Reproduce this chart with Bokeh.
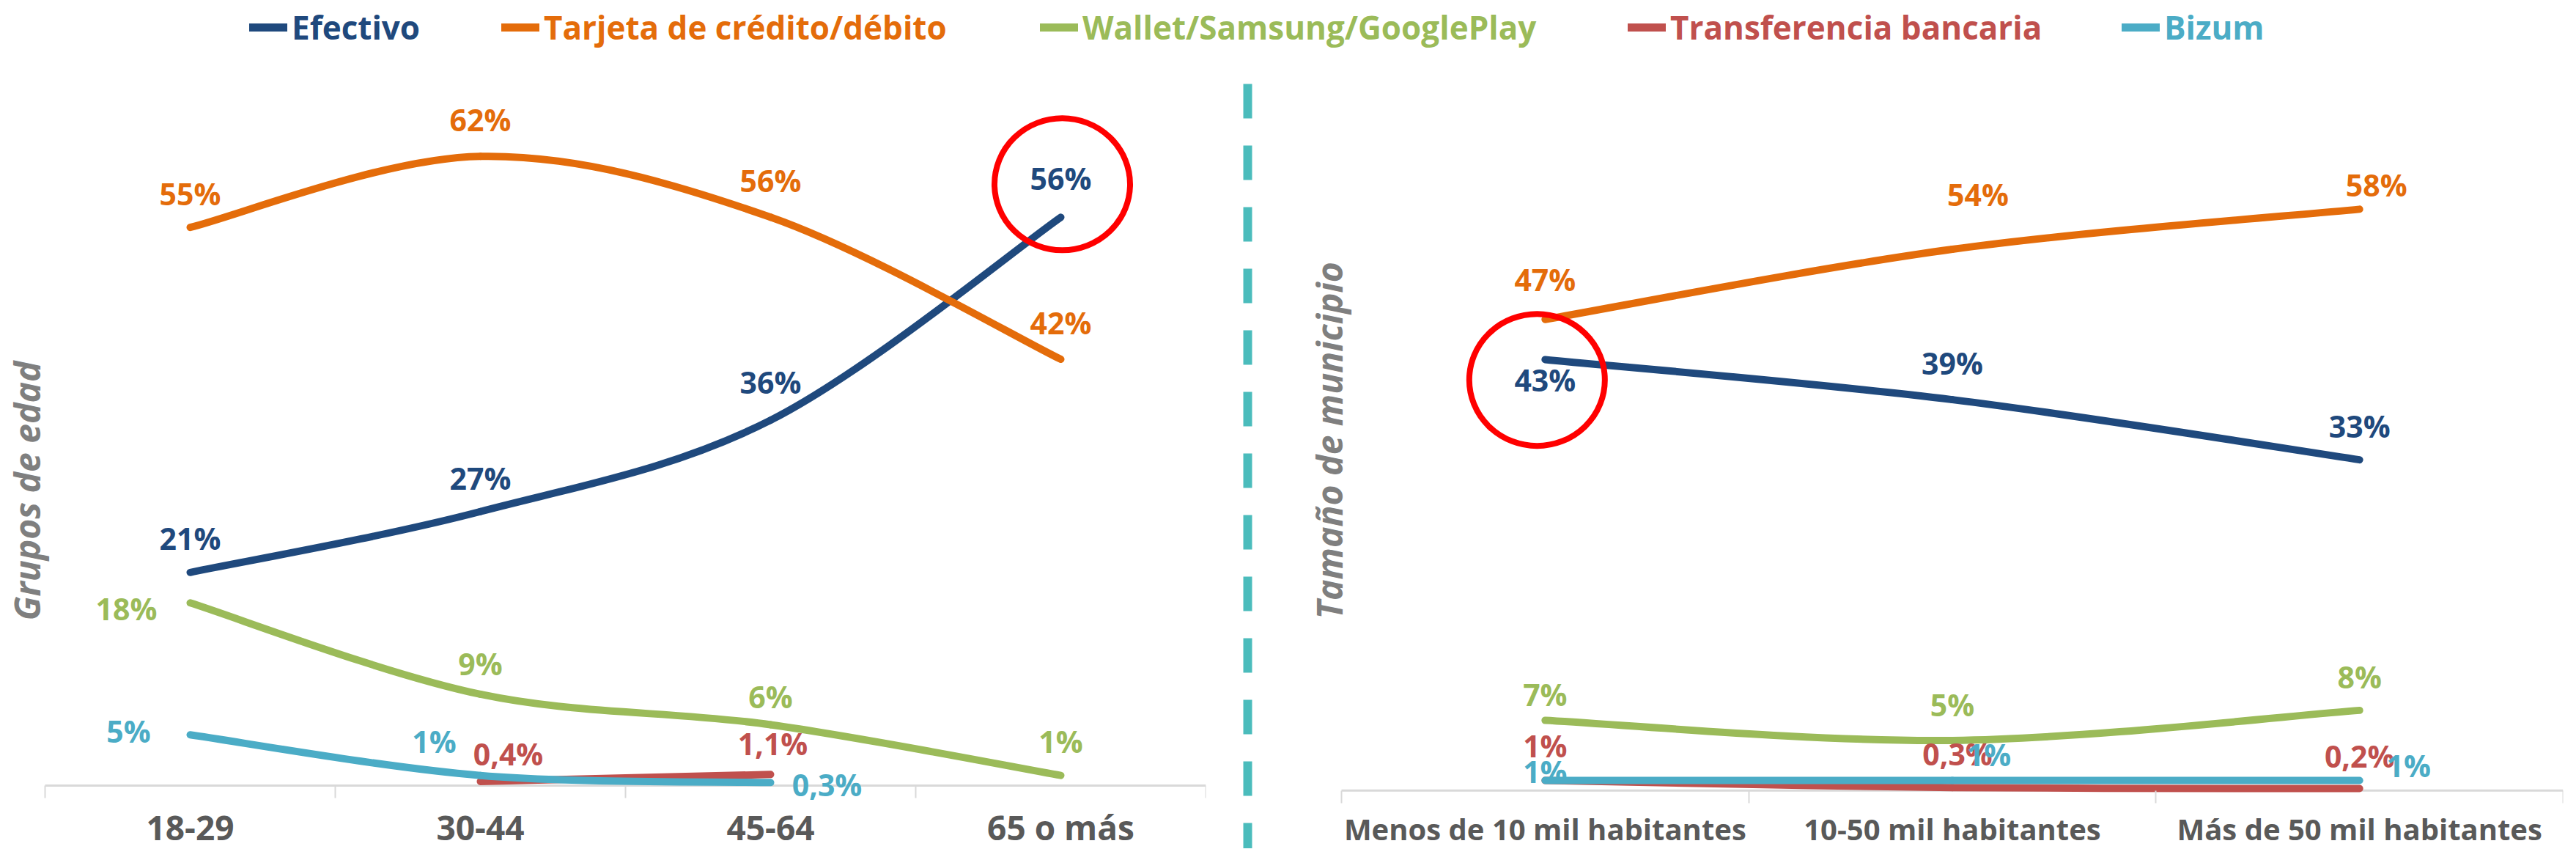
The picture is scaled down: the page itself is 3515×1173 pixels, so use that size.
import math
from bokeh.plotting import figure
from bokeh.models import (Range1d, LinearAxis, FixedTicker, Label, Legend,
                          LegendItem, ColumnDataSource)
from bokeh.layouts import column, row
from bokeh.embed import file_html
from bokeh.resources import INLINE
from bokeh.core.properties import value

# ---------------- data ----------------
SERIES = ["Efectivo", "Tarjeta de crédito/débito", "Wallet/Samsung/GooglePlay",
          "Transferencia bancaria", "Bizum"]
COLORS = ["#1F497D", "#E46C0A", "#9BBB59", "#C0504D", "#4BACC6"]

AGE_GROUPS = ["18-29", "30-44", "45-64", "65 o más"]
age_efectivo = [21, 27, 36, 56]
age_tarjeta = [55, 62, 56, 42]
age_wallet = [18, 9, 6, 1]
age_transfer = [None, 0.4, 1.1, None]
age_bizum = [5, 1, 0.3, None]

TOWN_SIZES = ["Menos de 10 mil habitantes", "10-50 mil habitantes", "Más de 50 mil habitantes"]
town_efectivo = [43, 39, 33]
town_tarjeta = [47, 54, 58]
town_wallet = [7, 5, 8]
town_transfer = [1, 0.3, 0.2]
town_bizum = [1, 1, 1]

AGE_DATA = [age_efectivo, age_tarjeta, age_wallet, age_transfer, age_bizum]
TOWN_DATA = [town_efectivo, town_tarjeta, town_wallet, town_transfer, town_bizum]

# ---------------- styles / placement ----------------
FONT = "Open Sans"
LABEL_PX = 41
LINE_W = 10
AXIS_GREY = "#D9D9D9"
# data label offsets in screen px (dx, dy); dy negative = up
AGE_LABEL_OFFSETS = [
    [(0, -47), (0, -46), (0, -52), (0, -53)],
    [(0, -46), (0, -50), (0, -50), (0, -50)],
    [(-87, 8), (0, -42), (0, -38), (0, -47)],
    [None, (38, -38), (3, -42), None],
    [(-84, -5), (-63, -47), (77, 3), None],
]
TOWN_LABEL_OFFSETS = [
    [(0, 28), (0, -50), (0, -46)],
    [(0, -55), (35, -75), (23, -33)],
    [(0, -36), (0, -49), (0, -46)],
    [(0, -48), (7, -46), (0, -45)],
    [(0, -13), (50, -36), (67, -21)],
]
# highlight ellipse: (series index, point index, dx px, dy px)
AGE_HIGHLIGHT = (0, 3, 2, -45)
TOWN_HIGHLIGHT = (0, 0, -11, 28)

T = 1.0 / 6.0
ROW_H = 1065


def fmt(v):
    if float(v).is_integer():
        return f"{int(v)}%"
    return f"{v:.1f}".replace(".", ",") + "%"


def bezier_source(xs, ys):
    d = dict(x0=[], y0=[], x1=[], y1=[], cx0=[], cy0=[], cx1=[], cy1=[])
    runs, cur = [], []
    for k, v in enumerate(ys):
        if v is None:
            if cur:
                runs.append(cur)
            cur = []
        else:
            cur.append(k)
    if cur:
        runs.append(cur)
    for run in runs:
        pts = [(xs[k], ys[k]) for k in run]
        m = len(pts)
        for j in range(m - 1):
            pa = pts[max(j - 1, 0)]
            pb = pts[j]
            pc = pts[j + 1]
            pd = pts[min(j + 2, m - 1)]
            d["x0"].append(pb[0]); d["y0"].append(pb[1])
            d["x1"].append(pc[0]); d["y1"].append(pc[1])
            d["cx0"].append(pb[0] + (pc[0] - pa[0]) * T)
            d["cy0"].append(pb[1] + (pc[1] - pa[1]) * T)
            d["cx1"].append(pc[0] - (pd[0] - pb[0]) * T)
            d["cy1"].append(pc[1] - (pd[1] - pb[1]) * T)
    return ColumnDataSource(d)


def bare_figure(width, height, xr, yr, **borders):
    p = figure(width=width, height=height, x_range=xr, y_range=yr,
               toolbar_location=None, output_backend="svg",
               x_axis_location=None, y_axis_location=None,
               outline_line_color=None, background_fill_color="white",
               border_fill_color="white", **borders)
    p.grid.visible = False
    return p


def make_panel(cats, data, offsets, highlight, width, lead_px, border_right, border_top,
               zero_px, ppy, cat_font_px, label_standoff, title, title_pos, divider=None):
    """lead_px: free space (px) left of the category axis inside the frame."""
    n = len(cats)
    fh = ROW_H - border_top
    cw = width - border_right - lead_px
    ppx = cw / n
    x_min = -lead_px / ppx
    y_max = zero_px / ppy
    y_min = -(fh - zero_px) / ppy
    p = bare_figure(width, ROW_H, Range1d(x_min, n), Range1d(y_min, y_max),
                    min_border_left=0, min_border_right=border_right,
                    min_border_top=border_top, min_border_bottom=0)

    xs = [i + 0.5 for i in range(n)]
    # category axis baseline
    p.segment(x0=[0], y0=[0], x1=[n], y1=[0], line_color=AXIS_GREY, line_width=3)
    ticker = FixedTicker(ticks=xs, minor_ticks=list(range(n + 1)))
    ax = LinearAxis(ticker=ticker, fixed_location=0,
                    major_label_overrides={x: c for x, c in zip(xs, cats)},
                    axis_line_color=None,
                    major_tick_in=0, major_tick_out=0,
                    minor_tick_in=0, minor_tick_out=17,
                    minor_tick_line_color=AXIS_GREY, minor_tick_line_width=2,
                    major_label_text_font=FONT, major_label_text_font_style="bold",
                    major_label_text_font_size=f"{cat_font_px}px",
                    major_label_text_color="#595959",
                    major_label_standoff=label_standoff)
    p.add_layout(ax, "below")

    for vals, color in zip(data, COLORS):
        p.bezier(x0="x0", y0="y0", x1="x1", y1="y1", cx0="cx0", cy0="cy0",
                 cx1="cx1", cy1="cy1", source=bezier_source(xs, vals),
                 line_color=color, line_width=LINE_W, line_cap="round")

    for vals, offs, color in zip(data, offsets, COLORS):
        src = dict(x=[], y=[], t=[], dx=[], dy=[])
        for x, v, o in zip(xs, vals, offs):
            if v is None:
                continue
            src["x"].append(x); src["y"].append(v); src["t"].append(fmt(v))
            src["dx"].append(o[0]); src["dy"].append(o[1])
        p.text(x="x", y="y", text="t", x_offset="dx", y_offset="dy",
               source=ColumnDataSource(src), text_color=color,
               text_font=value(FONT), text_font_style="bold",
               text_font_size=f"{LABEL_PX}px", text_align="center",
               text_baseline="middle")

    si, pi, hdx, hdy = highlight
    p.ellipse(x=[xs[pi] + hdx / ppx], y=[data[si][pi] - hdy / ppy],
              width=185, height=180, width_units="screen", height_units="screen",
              fill_color=None, line_color="#FF0000", line_width=8)

    tx, ty = title_pos  # px from frame left / frame top
    p.add_layout(Label(x=x_min + tx / ppx, y=y_max - ty / ppy, text=title,
                       angle=math.pi / 2, text_align="center", text_baseline="middle",
                       text_font=FONT, text_font_style="bold italic",
                       text_font_size="48px", text_color="#7F7F7F"))

    if divider is not None:
        dx_px, dtop_px = divider
        xd = x_min + dx_px / ppx
        p.segment(x0=[xd], y0=[y_max - dtop_px / ppy], x1=[xd], y1=[y_min],
                  line_color="#4BBCBC", line_width=12, line_dash="47 37")
    return p


left = make_panel(AGE_GROUPS, AGE_DATA, AGE_LABEL_OFFSETS, AGE_HIGHLIGHT,
                  width=1672, lead_px=61, border_right=27, border_top=10,
                  zero_px=969, ppy=969 / 70, cat_font_px=46, label_standoff=8,
                  title="Grupos de edad", title_pos=(36, 567))

right = make_panel(TOWN_SIZES, TOWN_DATA, TOWN_LABEL_OFFSETS, TOWN_HIGHLIGHT,
                   width=1827, lead_px=158, border_right=2, border_top=0,
                   zero_px=985, ppy=966 / 70, cat_font_px=40, label_standoff=8,
                   title="Tamaño de municipio", title_pos=(141, 503),
                   divider=(30, 12))

# legend strip
LEGEND_X = [340, 684, 1419, 2221, 2895]
leg = bare_figure(3499, 92, Range1d(0, 1), Range1d(0, 1), min_border=0)
for name, color, lx in zip(SERIES, COLORS, LEGEND_X):
    r = leg.line(x=[2, 3], y=[2, 3], line_color=color, line_width=11, line_cap="round")
    lg = Legend(items=[LegendItem(label=name, renderers=[r])], location=(lx, 25),
                orientation="horizontal", glyph_width=52, glyph_height=40,
                label_standoff=6, padding=0, margin=0, spacing=0,
                border_line_color=None, background_fill_alpha=0,
                label_text_font=FONT, label_text_font_style="bold",
                label_text_font_size="44px", label_text_color=color, label_height=40)
    leg.add_layout(lg)

layout = column(leg, row(left, right))
open("out.html", "w").write(file_html(layout, INLINE))
